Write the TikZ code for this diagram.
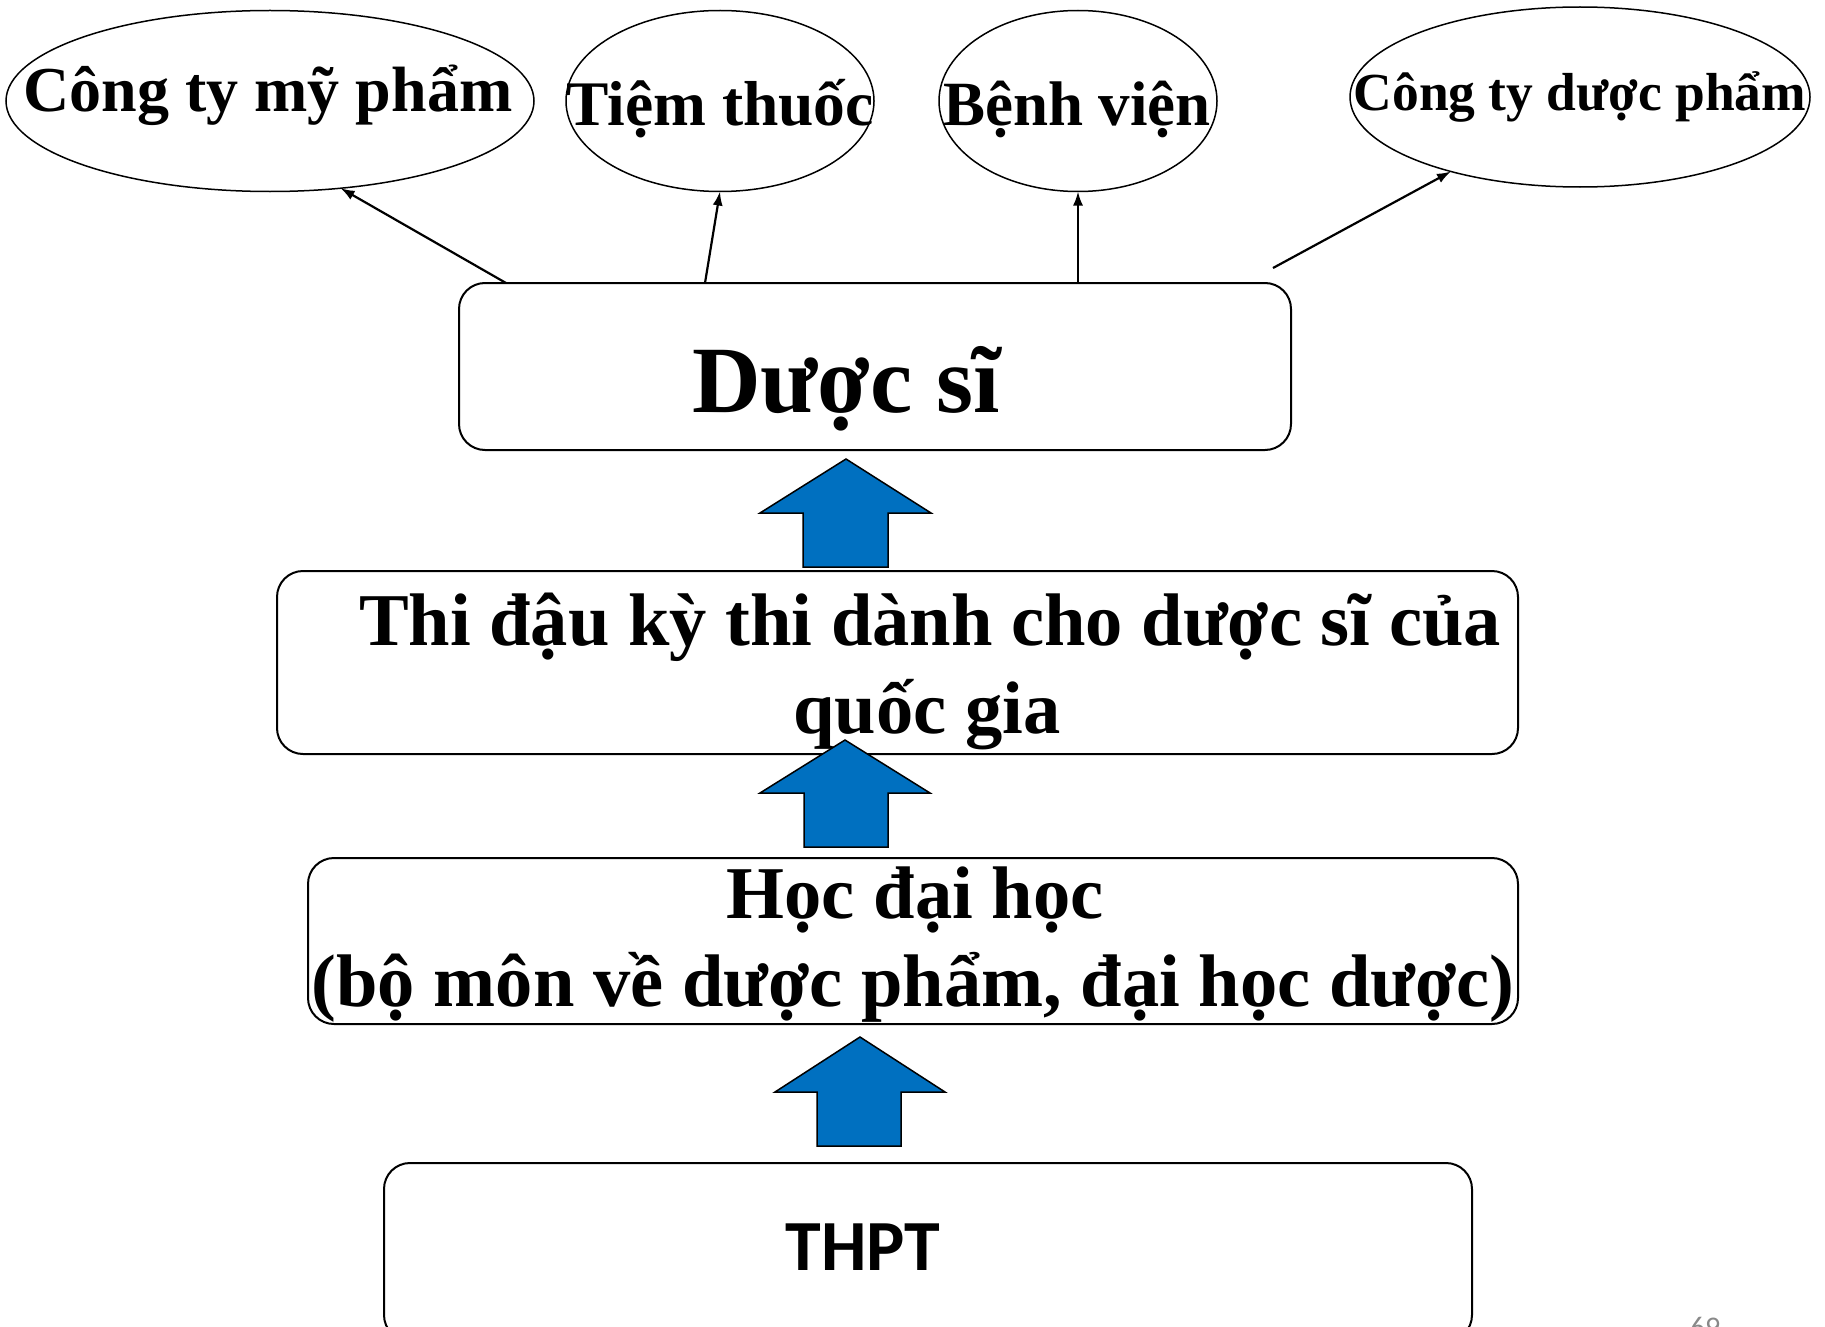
\documentclass[tikz,border=0pt]{standalone}
\usepackage{fontspec}
\setmainfont{Liberation Serif}
\newfontfamily\calib{Carlito}
\usetikzlibrary{shapes.geometric,arrows.meta}
\definecolor{arrowblue}{RGB}{0,112,192}
\definecolor{pagegray}{RGB}{137,137,137}
\begin{document}
\begin{tikzpicture}[x=1pt,y=-1pt,
  dest/.style={draw, ellipse, line width=1.5pt, inner sep=0pt, outer sep=0pt},
  stage/.style={draw, rectangle, rounded corners=26pt, line width=2pt, inner sep=0pt, outer sep=0pt},
  lbl/.style={anchor=base, inner sep=0pt, font=\bfseries\fontsize{#1}{#1}\selectfont},
  link/.style={line width=2.2pt, -{Latex[length=14pt,width=10pt]}},
  bigarrow/.style={fill=arrowblue, draw=black, line width=1.5pt, line join=miter}
]
\useasboundingbox (0,0) rectangle (1825,1327);
\clip (0,0) rectangle (1825,1327);

% destination ellipses
\node[dest, minimum width=528, minimum height=181] (e1) at (270,101) {};
\node[dest, minimum width=308, minimum height=181] (e2) at (720,101) {};
\node[dest, minimum width=278, minimum height=181] (e3) at (1078,101) {};
\node[dest, minimum width=460, minimum height=180] (e4) at (1580,97) {};

\node[lbl=64] (t1) at (268,112) {Công ty mỹ phẩm};
\node[lbl=63.5] (t2) at (720,125) {Tiệm thuốc};
\node[lbl=63] (t3) at (1077,125) {Bệnh viện};
\node[lbl=53.5] (t4) at (1580,111) {Công ty dược phẩm};

% stage boxes
\node[stage, minimum width=832, minimum height=167] (ds) at (875,366.5) {};
\node[stage, minimum width=1241, minimum height=183] (thi) at (897.5,662.5) {};
\node[stage, minimum width=1210, minimum height=166] (hoc) at (913,941) {};
\node[stage, minimum width=1088, minimum height=178] (thpt) at (928,1252) {};

\node[lbl=95] (tds) at (846,412) {Dược sĩ};
\node[lbl=74.5] (tthi1) at (930,645) {Thi đậu kỳ thi dành cho dược sĩ của};
\node[lbl=74.5] (tthi2) at (927,733) {quốc gia};
\node[lbl=74.5] (thoc1) at (915,918) {Học đại học};
\node[lbl=74.5] (thoc2) at (913,1006) {(bộ môn về dược phẩm, đại học dược)};
\node[anchor=base, inner sep=0pt, font=\calib\bfseries\fontsize{72}{72}\selectfont] (tthpt) at (863,1270) {THPT};
\node[anchor=base, inner sep=0pt, text=pagegray, font=\calib\fontsize{30}{30}\selectfont] (pg) at (1705,1337) {69};

% connectors to destinations
\coordinate (e4from) at (1273,268);
\draw[link] ([xshift=47pt]ds.north west) -- (e1.-51);
\draw[link] ([xshift=246pt]ds.north west) -- (e2.south);
\draw[link] (e3.south |- ds.north) -- (e3.south);
\draw[link] (e4from) -- (e4.-150);

% block arrows
\draw[bigarrow] (803,567) -- (803,513) -- (760,513) -- (846,459) -- (931,513) -- (888,513) -- (888,567) -- cycle;
\draw[bigarrow] (804,847) -- (804,793) -- (760,793) -- (845,740) -- (930,793) -- (888,793) -- (888,847) -- cycle;
\draw[bigarrow] (817,1146) -- (817,1092) -- (775,1092) -- (860,1037) -- (945,1092) -- (901,1092) -- (901,1146) -- cycle;
\end{tikzpicture}
\end{document}
